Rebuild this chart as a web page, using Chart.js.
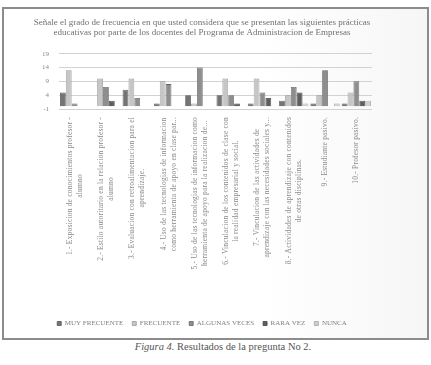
<!DOCTYPE html>
<html>
<head>
<meta charset="utf-8">
<script src="https://cdn.jsdelivr.net/npm/chart.js@4/dist/chart.umd.min.js"></script>
<style>
  body { margin: 0; background: #fff; width: 431px; height: 365px; position: relative; overflow: hidden; }
  .frame { position: absolute; left: 2px; top: 7px; width: 423px; height: 329px; border: 2px solid #8c8c8c;
           background: linear-gradient(90deg, #fff 0%, #fff 60%, #f6f6f6 100%); }
  #chart { position: absolute; left: 2px; top: 2px; }
  .caption { position: absolute; left: 0; width: 446px; top: 341px; text-align: center;
             font-family: 'Liberation Serif', 'Times New Roman', serif; font-weight: normal;
             font-size: 10.5px; color: #555; }
</style>
</head>
<body>
<div class="frame">
  <canvas id="chart" width="392" height="327"></canvas>
</div>
<div class="caption"><i>Figura 4.</i> Resultados de la pregunta No 2.</div>
<script>
// --- Data ---
const categories = [
    ['1.- Exposicion de conocimientos profesor -', 'alumno'],
    ['2.- Estilo autoritario en la relacion profesor -', 'alumno'],
    ['3.- Evaluacion con retroalimentacion para el', 'aprendizaje.'],
    ['4.- Uso de las tecnologias de informacion', 'como herramienta de apoyo en clase par...'],
    ['5.- Uso de las tecnologias de informacion como', 'herramienta de apoyo para la realizacion de...'],
    ['6.- Vinculacion de los contenidos de clase con', 'la realidad empresarial y social.'],
    ['7.- Vinculacion de las actividades de', 'aprendizaje con las necesidades sociales y...'],
    ['8.- Actividades de aprendizaje con contenidos', 'de otras disciplinas.'],
    ['9.- Estudiante pasivo.'],
    ['10.- Profesor pasivo.']
];
const seriesNames = ['MUY FRECUENTE', 'FRECUENTE', 'ALGUNAS VECES', 'RARA VEZ', 'NUNCA'];
const muyFrecuente = [5, 0, 6, 1, 4, 4, 1, 2, 1, 1];
const frecuente    = [13, 10, 10, 9, 1, 10, 10, 4, 4, 5];
const algunasVeces = [1, 7, 3, 8, 14, 4, 5, 7, 13, 9];
const raraVez      = [0, 2, 0, 0, 0, 1, 3, 5, 0, 2];
const nunca        = [0, 0, 0, 0, 0, 0, 0, 1, 1, 2];
const yTicks = [-1, 4, 9, 14, 19];

const titleLines = [
    'Señale el grado de frecuencia en que usted considera que se presentan las siguientes prácticas',
    'educativas por parte de los docentes del Programa de Administracion de Empresas'
];

// --- Styles ---
const fills = ['#747474', '#c6c6c6', '#8e8e8e', '#5e5e5e', '#cfcfcf'];
const edges = ['#555', '#9a9a9a', '#666', '#444', '#a5a5a5'];
const serif = "'Liberation Serif', 'Times New Roman', serif";

const allSeries = [muyFrecuente, frecuente, algunasVeces, raraVez, nunca];

// draws the rotated, centred multi-line category labels under the plot
const xLabelPlugin = {
    id: 'xLabels',
    afterDraw(chart) {
        const ctx = chart.ctx;
        const xs = chart.scales.x;
        const top = chart.chartArea.bottom + 8;
        ctx.save();
        ctx.font = '7.5px ' + serif;
        ctx.letterSpacing = '0.2px';
        ctx.fillStyle = '#8a8a8a';
        ctx.textBaseline = 'middle';
        ctx.textAlign = 'center';
        categories.forEach((lines, i) => {
            const x = xs.getPixelForValue(i);
            const maxW = Math.max(...lines.map(l => ctx.measureText(l).width));
            ctx.save();
            ctx.translate(x, top);
            ctx.rotate(-Math.PI / 2);
            lines.forEach((l, j) => {
                ctx.fillText(l, -maxW / 2, (j - (lines.length - 1) / 2) * 10);
            });
            ctx.restore();
        });
        ctx.restore();
    }
};

new Chart(document.getElementById('chart'), {
    type: 'bar',
    data: {
        labels: categories.map(c => c.join(' ')),
        datasets: seriesNames.map((name, i) => ({
            label: name,
            data: allSeries[i],
            backgroundColor: fills[i],
            borderColor: edges[i],
            borderWidth: 0.8,
            categoryPercentage: 0.94,
            barPercentage: 0.98
        }))
    },
    options: {
        responsive: false,
        animation: false,
        devicePixelRatio: 1,
        layout: { padding: { left: 26, right: 26, bottom: 1, top: 0 } },
        plugins: {
            title: {
                display: true,
                text: titleLines,
                color: '#707070',
                font: { family: serif, size: 9, weight: 'normal', lineHeight: 1.15 },
                padding: { top: 6, bottom: 16 }
            },
            legend: {
                position: 'bottom',
                labels: {
                    boxWidth: 4,
                    boxHeight: 4,
                    padding: 9,
                    color: '#808080',
                    font: { family: serif, size: 7 }
                }
            },
            tooltip: { enabled: false }
        },
        scales: {
            x: {
                grid: { display: false },
                border: { display: false },
                ticks: { display: false },
                afterFit: (scale) => { scale.height = 202; }
            },
            y: {
                min: -1,
                max: 19,
                afterBuildTicks: (scale) => { scale.ticks = yTicks.map(v => ({ value: v })); },
                grid: { color: '#d2d2d2', drawTicks: false },
                border: { display: false },
                ticks: { color: '#8a8a8a', padding: 10, font: { family: serif, size: 7 } }
            }
        }
    },
    plugins: [xLabelPlugin]
});
</script>
</body>
</html>
